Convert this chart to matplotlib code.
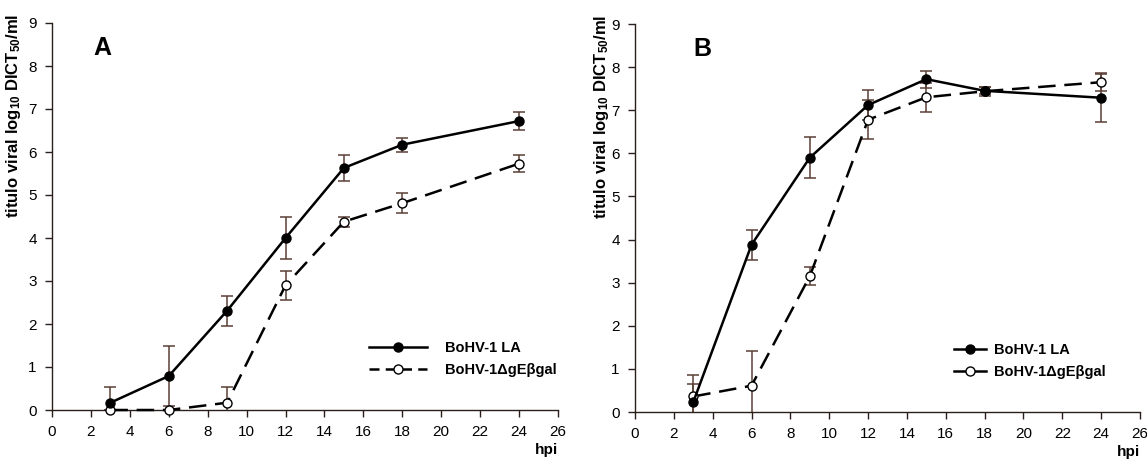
import matplotlib
matplotlib.use("Agg")
import matplotlib.pyplot as plt
from matplotlib.lines import Line2D

plt.rcParams['font.family'] = ['Liberation Sans', 'DejaVu Sans']
plt.rcParams['mathtext.fontset'] = 'custom'
plt.rcParams['mathtext.rm'] = 'Liberation Sans:bold'
plt.rcParams['mathtext.bf'] = 'Liberation Sans:bold'
plt.rcParams['mathtext.it'] = 'Liberation Sans:bold'

hpi = [3, 6, 9, 12, 15, 18, 24]

# Panel A
a_la = [0.17, 0.79, 2.31, 4.00, 5.63, 6.17, 6.72]
a_la_err = [0.36, 0.70, 0.35, 0.48, 0.30, 0.16, 0.20]
a_ge = [0.0, 0.0, 0.17, 2.90, 4.38, 4.81, 5.73]
a_ge_err = [0.0, 0.0, 0.36, 0.34, 0.12, 0.23, 0.20]

# Panel B
b_la = [0.23, 3.88, 5.90, 7.12, 7.72, 7.45, 7.29]
b_la_err = [0.41, 0.35, 0.47, 0.35, 0.20, 0.08, 0.57]
b_ge = [0.36, 0.61, 3.15, 6.78, 7.30, 7.44, 7.65]
b_ge_err = [0.49, 0.81, 0.21, 0.45, 0.33, 0.10, 0.20]

series_names = ['BoHV-1 LA', 'BoHV-1\u0394gE\u03b2gal']
panel_letters = ['A', 'B']
x_ticks = list(range(0, 27, 2))
y_ticks = list(range(0, 10))

W, H = 1147, 462
fig = plt.figure(figsize=(W / 100, H / 100), dpi=100)

ERR_COLOR = '#5b4037'
boxes = [(52, 558, 410, 23), (635, 1140, 412, 24)]


def make_axes(box):
    l, r, b, t = box
    return fig.add_axes([l / W, 1 - b / H, (r - l) / W, (b - t) / H])


def draw_panel(ax, la, la_err, ge, ge_err, letter, letter_x, label_x,
               dashed_legend):
    ax.errorbar(hpi, la, yerr=la_err, fmt='none', ecolor=ERR_COLOR,
                elinewidth=1.1, capsize=4.5, capthick=1.1, zorder=2)
    ax.errorbar(hpi, ge, yerr=ge_err, fmt='none', ecolor=ERR_COLOR,
                elinewidth=1.1, capsize=4.5, capthick=1.1, zorder=2)
    ax.plot(hpi, ge, color='black', lw=1.8, ls=(0, (7, 3.5)),
            marker='o', ms=6.5, mfc='white', mec='black', mew=1.0,
            clip_on=False, zorder=3)
    ax.plot(hpi, la, color='black', lw=1.8, ls='-',
            marker='o', ms=6.5, mfc='black', mec='black',
            clip_on=False, zorder=4)

    ax.set_xlim(0, 26)
    ax.set_ylim(0, 9)
    ax.set_xticks(x_ticks)
    ax.set_yticks(y_ticks)
    for s in ['top', 'right']:
        ax.spines[s].set_visible(False)
    for s in ['left', 'bottom']:
        ax.spines[s].set_linewidth(1.0)
        ax.spines[s].set_color('#2a1f1b')
    ax.tick_params(direction='out', length=5, width=1.0, colors='#2a1f1b',
                   labelsize=11, pad=6, labelcolor='black')

    ax.set_ylabel(r'titulo viral log$_{10}$ DICT$_{50}$/ml',
                  fontsize=12, fontweight='bold')
    ax.yaxis.set_label_coords(label_x, 0.76)
    ax.text(1.0, -0.085, 'hpi', transform=ax.transAxes, ha='right',
            va='top', fontsize=11, fontweight='bold')
    ax.text(letter_x, 0.935, letter, transform=ax.transAxes, ha='center',
            va='center', fontsize=18, fontweight='bold')

    if dashed_legend:
        h1 = Line2D([], [], color='black', lw=1.8, marker='o', ms=6.5,
                    mfc='black')
        h2 = Line2D([], [], color='black', lw=1.8, ls=(0, (4, 2.5)),
                    marker='o', ms=6.5, mfc='white', mec='black')
        ax.legend([h1, h2], series_names, loc='lower right',
                  bbox_to_anchor=(1.023, 0.052), frameon=False,
                  handlelength=4.0, handletextpad=1.2,
                  labelspacing=0.55,
                  prop={'weight': 'bold', 'size': 10.5})
    else:
        h1 = Line2D([], [], color='black', lw=1.8, marker='o', ms=6.5,
                    mfc='black')
        h2 = Line2D([], [], color='black', lw=1.8, marker='o', ms=6.5,
                    mfc='white', mec='black')
        ax.legend([h1, h2], series_names, loc='lower right',
                  bbox_to_anchor=(0.957, 0.052), frameon=False,
                  handlelength=2.2, handletextpad=0.5,
                  labelspacing=0.55,
                  prop={'weight': 'bold', 'size': 10.5})


axA = make_axes(boxes[0])
draw_panel(axA, a_la, a_la_err, a_ge, a_ge_err, panel_letters[0],
           0.099, -0.057, True)
axB = make_axes(boxes[1])
draw_panel(axB, b_la, b_la_err, b_ge, b_ge_err, panel_letters[1],
           0.133, -0.047, False)

fig.savefig('out.png', dpi=100, facecolor='white')
